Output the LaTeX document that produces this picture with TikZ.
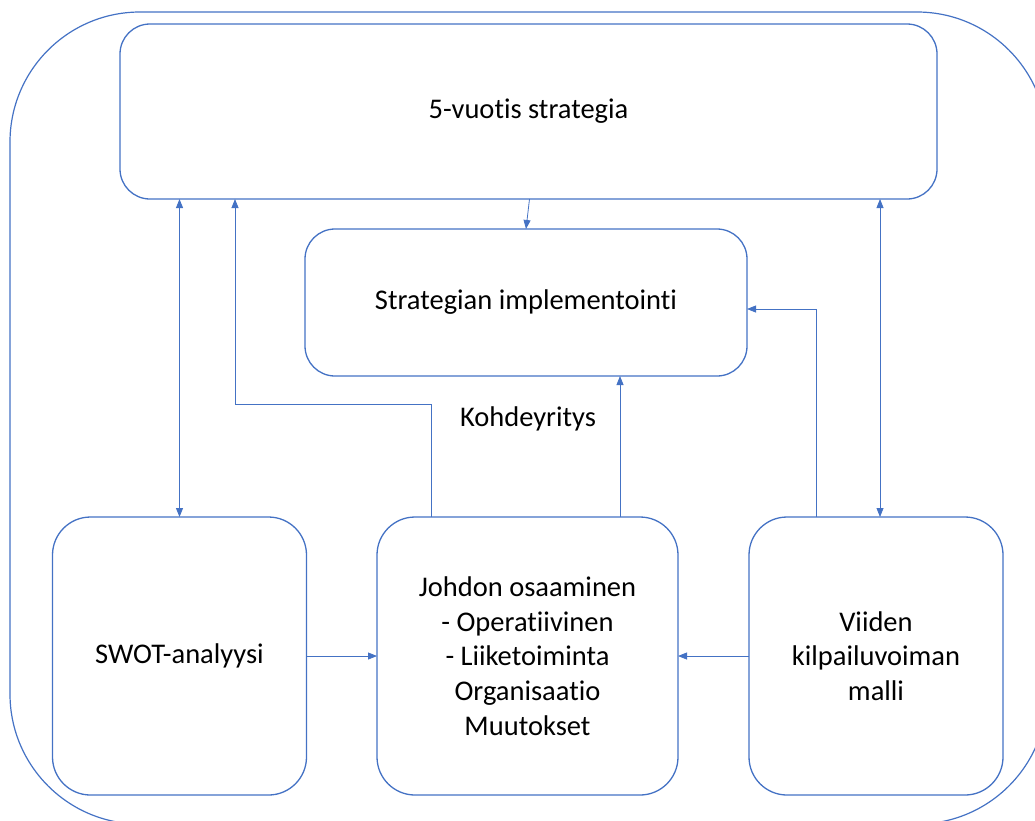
\documentclass[tikz,border=0pt]{standalone}
\usepackage{fontspec}
\setmainfont{Carlito}[Ligatures=NoCommon]
\usetikzlibrary{arrows.meta,calc}
\definecolor{obl}{HTML}{4472C4}
\tikzset{
  box/.style={draw=obl, line width=1.3pt, rounded corners=#1, inner sep=0pt, outer sep=0pt, align=center, font=\fontsize{28.5}{34.8}\selectfont},
  box/.default=30pt,
  arr/.style={draw=obl, line width=0.8pt, -{Triangle[length=9pt,width=7pt]}},
  darr/.style={draw=obl, line width=0.8pt, {Triangle[length=9pt,width=7pt]}-{Triangle[length=9pt,width=7pt]}},
  lbl/.style={font=\fontsize{28.5}{34.8}\selectfont, inner sep=0pt}
}
\begin{document}
\begin{tikzpicture}[x=1pt,y=-1pt]
\useasboundingbox (0,0) rectangle (1035,820);
\begin{scope}
\clip (0,0) rectangle (1035,820);
\draw[draw=obl, line width=1.2pt, rounded corners=130pt] (10,12) rectangle (1047,824);
\end{scope}
\node[box, minimum width=817pt, minimum height=175pt] (top) at (528.5,111.5) {5-vuotis strategia};
\node[box, minimum width=442pt, minimum height=147pt] (strat) at (526,302.5) {Strategian implementointi};
\node[box=38pt, minimum width=254pt, minimum height=278pt] (swot) at (179.5,656) {SWOT-analyysi};
\node[box=38pt, minimum width=301pt, minimum height=278pt] (joh) at (527.5,656) {Johdon osaaminen\\- Operatiivinen\\- Liiketoiminta\\Organisaatio\\Muutokset};
\node[box=38pt, minimum width=254pt, minimum height=278pt] (vii) at (876,656) {Viiden\\kilpailuvoiman\\malli};
\node[lbl] (koh) at (528,419) {Kohdeyritys};
\coordinate (k1) at (235,404);
\draw[darr] (swot.north) -- (swot.north |- top.south);
\draw[darr] ([xshift=4pt]vii.north) -- ([xshift=4pt]vii.north |- top.south);
\draw[arr] ([xshift=-96.5pt]joh.north) |- (k1) -- (k1 |- top.south);
\draw[arr] ([xshift=1pt]top.south) -- (strat.north);
\draw[arr] ([xshift=92.5pt]joh.north) -- ([xshift=92.5pt]joh.north |- strat.south);
\draw[arr] ([xshift=-60pt]vii.north) |- ([yshift=-6.5pt]strat.east);
\draw[arr] (swot.east) -- (joh.west);
\draw[arr] (vii.west) -- (joh.east);
\end{tikzpicture}
\end{document}
